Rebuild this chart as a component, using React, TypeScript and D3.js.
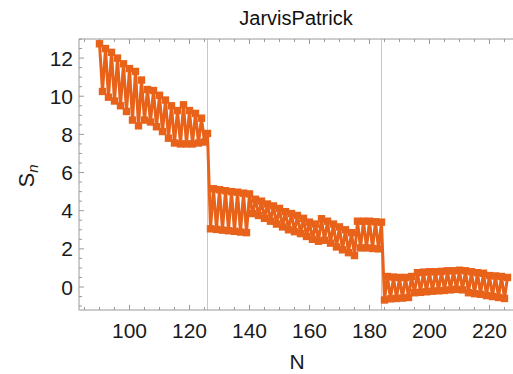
import React from "react";
import * as d3 from "d3";

// S_n for even N = 90, 92, ..., 226
const evenN = d3.range(90, 227, 2);
const evenSn = [
  12.75, 12.5, 12.3, 12.0, 11.7, 11.45, 11.3, 10.85, 10.35, 10.3, 10.05, 9.8, 9.5, 9.25, 9.55, 9.25, 9.1, 8.85, 8.05,
  5.15, 5.1, 5.05, 5.0, 4.97, 4.92, 4.88, 4.6, 4.5, 4.35, 4.25, 4.12, 3.95, 3.85, 3.75, 3.6, 3.4, 3.3, 3.58, 3.45, 3.3, 3.15, 3.0, 2.85, 3.45, 3.45, 3.45, 3.42, 3.4,
  0.55, 0.52, 0.5, 0.5, 0.55, 0.75, 0.78, 0.8, 0.8, 0.82, 0.85, 0.85, 0.88, 0.85, 0.8, 0.75, 0.72, 0.6, 0.58, 0.55, 0.5,
];
// S_n for odd N = 91, 93, ..., 225
const oddN = d3.range(91, 226, 2);
const oddSn = [
  10.25, 9.95, 9.75, 9.5, 9.2, 8.75, 8.45, 8.75, 8.65, 8.4, 8.15, 7.8, 7.55, 7.5, 7.5, 7.5, 7.55, 7.6,
  3.05, 3.02, 2.98, 2.95, 2.92, 2.88, 2.85, 3.85, 3.75, 3.6, 3.45, 3.3, 3.15, 3.0, 2.9, 2.8, 2.65, 2.5, 2.4, 2.45, 2.3, 2.1, 1.95, 1.8, 1.65, 2.05, 2.05, 2.02, 2.0,
  -0.68, -0.62, -0.6, -0.58, -0.55, -0.3, -0.28, -0.25, -0.22, -0.2, -0.18, -0.15, -0.12, -0.15, -0.3, -0.35, -0.38, -0.45, -0.5, -0.55, -0.6,
];
const shellLines = [126, 184];
const xTicks = [100, 120, 140, 160, 180, 200, 220];
const yTicks = [0, 2, 4, 6, 8, 10, 12];
const title = "JarvisPatrick";

const W = 513;
const H = 374;
const left = 79;
const top = 39;
const bottom = 310;
const color = "#E8621A";
const font = "'Liberation Sans', Arial, sans-serif";

export default function App() {
  const points = [
    ...evenN.map((n, i) => ({ n, s: evenSn[i] })),
    ...oddN.map((n, i) => ({ n, s: oddSn[i] })),
  ].sort((a, b) => a.n - b.n);

  const x = d3.scaleLinear().domain([83.17, 233]).range([left, left + (233 - 83.17) * 3]);
  const y = d3.scaleLinear().domain([-1.205, 13.0]).range([bottom, top]);
  const right = x(233);

  const line = d3
    .line<{ n: number; s: number }>()
    .x((d) => x(d.n))
    .y((d) => y(d.s));

  const xMinor = d3.range(85, 233, 5);
  const yMinor = d3.range(-1, 13.01, 0.5);
  const frame = "#9a9a9a";
  const ms = 7.4;

  return (
    <svg width={W} height={H} style={{ position: "absolute", left: 0, top: 0 }}>
      <rect x={0} y={0} width={W} height={H} fill="white" />
      {shellLines.map((n) => (
        <line key={n} x1={x(n)} x2={x(n)} y1={top} y2={bottom} stroke="#c8c8c8" strokeWidth={1} />
      ))}
      {/* frame */}
      <line x1={left} x2={right} y1={bottom} y2={bottom} stroke={frame} />
      <line x1={left} x2={right} y1={top} y2={top} stroke={frame} />
      <line x1={left} x2={left} y1={top} y2={bottom} stroke={frame} />
      {xMinor.map((v) => {
        const major = v % 20 === 0;
        const len = major ? 5 : 3;
        return (
          <g key={"xt" + v}>
            <line x1={x(v)} x2={x(v)} y1={bottom} y2={bottom - len} stroke={frame} />
            <line x1={x(v)} x2={x(v)} y1={top} y2={top + len} stroke={frame} />
          </g>
        );
      })}
      {yMinor.map((v) => {
        const major = Math.abs(v % 2) < 1e-9;
        const len = major ? 5 : 3;
        return <line key={"yt" + v} x1={left} x2={left + len} y1={y(v)} y2={y(v)} stroke={frame} />;
      })}
      {xTicks.map((v) => (
        <text key={"xl" + v} x={x(v)} y={338} textAnchor="middle" fontFamily={font} fontSize={21} fill="#1a1a1a">
          {v}
        </text>
      ))}
      {yTicks.map((v) => (
        <text key={"yl" + v} x={73} y={y(v) + 7.5} textAnchor="end" fontFamily={font} fontSize={21} fill="#1a1a1a">
          {v}
        </text>
      ))}
      <text x={297} y={369} textAnchor="middle" fontFamily={font} fontSize={21} fill="#1a1a1a">
        N
      </text>
      <text transform="translate(34,176) rotate(-90)" textAnchor="middle" fontFamily={font} fontSize={22} fill="#1a1a1a">
        S<tspan fontSize={15} fontStyle="italic" dy={4}>n</tspan>
      </text>
      <text x={296} y={25} textAnchor="middle" fontFamily={font} fontSize={20} fill="#111">
        {title}
      </text>
      <path d={line(points) || ""} fill="none" stroke={color} strokeWidth={3} strokeLinejoin="round" />
      {points.map((p) => (
        <rect key={"m" + p.n} x={x(p.n) - ms / 2} y={y(p.s) - ms / 2} width={ms} height={ms} fill={color} />
      ))}
    </svg>
  );
}
